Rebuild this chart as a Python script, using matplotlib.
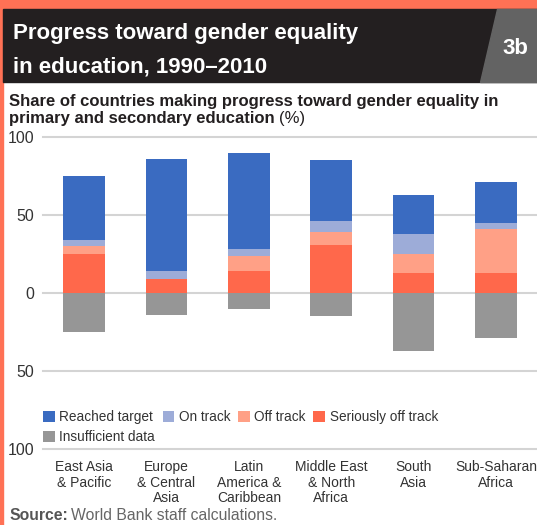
import matplotlib
matplotlib.use("Agg")
import matplotlib.pyplot as plt
from matplotlib.patches import Rectangle, Polygon
from matplotlib.ticker import FuncFormatter

# data (% of countries)
regions = ["East Asia\n& Pacific", "Europe\n& Central\nAsia", "Latin\nAmerica &\nCaribbean",
           "Middle East\n& North\nAfrica", "South\nAsia", "Sub-Saharan\nAfrica"]
seriously_off = [25, 9, 14, 31, 13, 13]
off_track = [5, 0, 10, 8, 12, 28]
on_track = [4, 5, 4, 7, 13, 4]
reached = [41, 72, 62, 39, 25, 26]
insufficient = [25, 14, 10, 15, 37, 29]

c_reached = "#3a6bc1"
c_on = "#9dacd8"
c_off = "#ffa086"
c_sev = "#ff684b"
c_ins = "#969696"
orange = "#ff7155"

plt.rcParams['font.family'] = ['Liberation Sans', 'DejaVu Sans']

W, H = 537, 525
fig = plt.figure(figsize=(W / 100, H / 100), dpi=100)
fig.patch.set_facecolor("white")

def fx(px):
    return px / W

def fy(py):
    return 1 - py / H

# frame and header
fig.patches.append(Rectangle((0, fy(9)), 1, 9 / H, transform=fig.transFigure, color=orange, zorder=0))
fig.patches.append(Rectangle((0, 0), fx(3), 1, transform=fig.transFigure, color=orange, zorder=0))
fig.patches.append(Rectangle((fx(3), fy(82)), 1, 73 / H, transform=fig.transFigure, color="#231f20", zorder=1))
fig.patches.append(Polygon([(fx(497), fy(9)), (1, fy(9)), (1, fy(82)), (fx(480), fy(82))],
                           closed=True, transform=fig.transFigure, color="#636363", zorder=2))

fig.text(fx(13), fy(39), "Progress toward gender equality", color="white", fontsize=16,
         fontweight="bold", va="baseline", ha="left")
fig.text(fx(13), fy(72), "in education, 1990\u20132010", color="white", fontsize=16,
         fontweight="bold", va="baseline", ha="left")
fig.text(fx(515), fy(54), "3b", color="white", fontsize=16, fontweight="bold", va="baseline", ha="center")

fig.text(fx(9), fy(106), "Share of countries making progress toward gender equality in",
         color="#231f20", fontsize=12, fontweight="bold", va="baseline", ha="left")
t = fig.text(fx(9), fy(123), "primary and secondary education ", color="#231f20", fontsize=12,
             fontweight="bold", va="baseline", ha="left")
fig.canvas.draw()
bb = t.get_window_extent()
fig.text(bb.x1 / W, fy(123), "(%)", color="#231f20", fontsize=12, va="baseline", ha="left")

src = fig.text(fx(9), fy(520), "Source:", color="#555555", fontsize=11.3, fontweight="bold",
               va="baseline", ha="left")
fig.canvas.draw()
bb = src.get_window_extent()
fig.text(bb.x1 / W + 0.006, fy(520), "World Bank staff calculations.", color="#666666",
         fontsize=11.3, va="baseline", ha="left")

# chart
ax = fig.add_axes([fx(43), fy(449), (W - 43) / W, (449 - 137) / H])
x = range(len(regions))
bw = 0.51
b1 = [a + b for a, b in zip(seriously_off, off_track)]
b2 = [a + b for a, b in zip(b1, on_track)]
h_sev = ax.bar(x, seriously_off, bw, color=c_sev, zorder=3, label="Seriously off track")
h_off = ax.bar(x, off_track, bw, bottom=seriously_off, color=c_off, zorder=3, label="Off track")
h_on = ax.bar(x, on_track, bw, bottom=b1, color=c_on, zorder=3, label="On track")
h_re = ax.bar(x, reached, bw, bottom=b2, color=c_reached, zorder=3, label="Reached target")
h_in = ax.bar(x, [-v for v in insufficient], bw, color=c_ins, zorder=3, label="Insufficient data")

ax.set_xlim(-0.5, len(regions) - 0.5)
ax.set_ylim(-100, 100)
ax.set_yticks([-100, -50, 0, 50, 100])
ax.yaxis.set_major_formatter(FuncFormatter(lambda v, p: f"{abs(v):.0f}"))
for v in [-100, -50, 0, 50, 100]:
    ax.axhline(v, color="#d4d4d4", lw=1.5, zorder=1, clip_on=False)
for s in ax.spines.values():
    s.set_visible(False)
ax.set_facecolor("none")
ax.tick_params(axis="y", length=0, pad=6.5, labelsize=11.5, labelcolor="#333333")
ax.set_xticks(list(x))
ax.set_xticklabels(regions, fontsize=10, color="#333333", linespacing=1.15)
ax.tick_params(axis="x", length=0, pad=8)

handles = [h_re, h_in, h_on, h_off, h_sev]
ax.legend(handles, [h.get_label() for h in handles], ncol=4, loc="upper left",
          bbox_to_anchor=(0, 0.125), frameon=False, prop={"size": 9.8},
          labelcolor="#333333", handlelength=0.85, handleheight=0.85, handletextpad=0.35,
          columnspacing=0.55, borderaxespad=0, borderpad=0, labelspacing=0.45)

fig.savefig("out.png", dpi=100)
